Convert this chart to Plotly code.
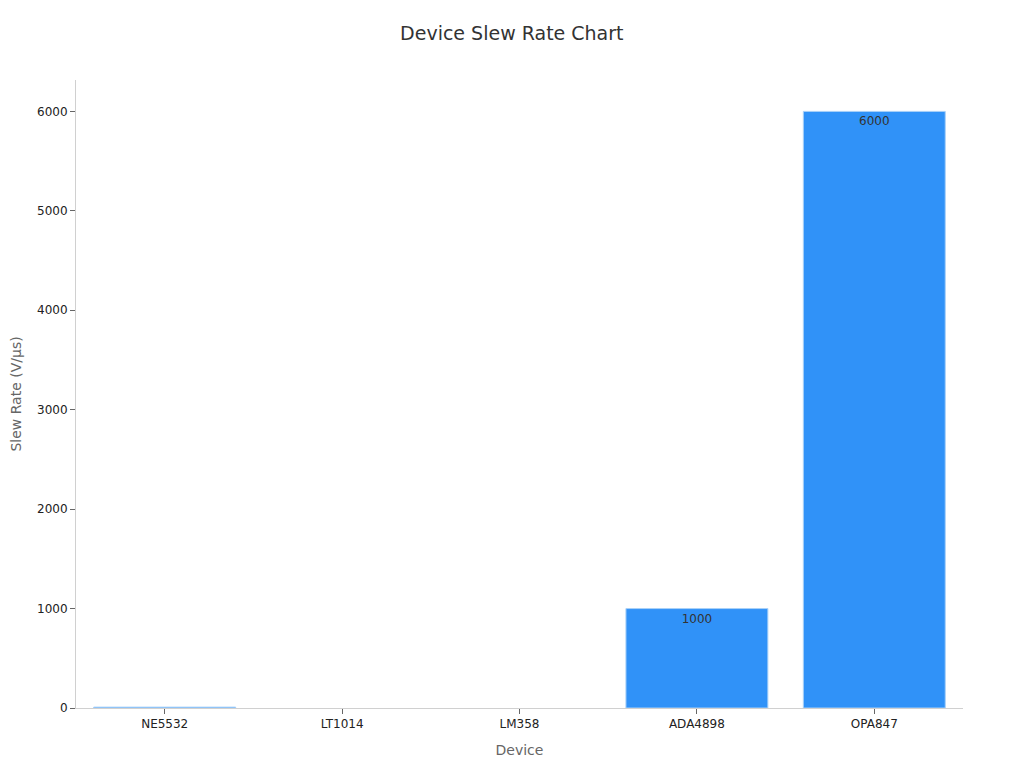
import plotly.graph_objects as go

devices = ['NE5532', 'LT1014', 'LM358', 'ADA4898', 'OPA847']
slew_rates = [9, 0.4, 0.3, 1000, 6000]  # V/us
bar_labels = ['9', '0.4', '0.3', '1000', '6000']

fig = go.Figure()
fig.add_trace(go.Bar(
    x=devices,
    y=slew_rates,
    text=bar_labels,
    textposition='inside',
    insidetextanchor='end',
    textfont=dict(size=12, color='#333333'),
    marker=dict(
        color='#3092f8',
        opacity=[1, 0, 0, 1, 1],  # sub-pixel bars don't show up in the original
        line=dict(color='#a8d0f8', width=1),
    ),
    hoverinfo='x+y',
))

# the page sits 8px in from the window edge, so margins are offset for that
fig.update_layout(
    title=dict(
        text="Device Slew Rate Chart",
        x=0.492,
        y=0.967,
        xanchor='center',
        yanchor='middle',
        font=dict(size=19, color='#333333'),
    ),
    font=dict(family='DejaVu Sans', size=12, color='#222222'),
    xaxis=dict(
        title=dict(text='Device', font=dict(size=14, color='#666666'), standoff=14),
        showline=True, linecolor='#d0d0d0', linewidth=1,
        ticks='outside', ticklen=5, tickcolor='#666666',
        showgrid=False,
    ),
    yaxis=dict(
        title=dict(text='Slew Rate (V/μs)', font=dict(size=14, color='#666666'), standoff=15),
        showline=True, linecolor='#d0d0d0', linewidth=1,
        ticks='outside', ticklen=5, tickcolor='#666666',
        showgrid=False, zeroline=False,
        rangemode='tozero',
        automargin=False,
    ),
    bargap=0.2,
    uniformtext=dict(minsize=12, mode='hide'),
    margin=dict(l=68, r=69, t=72, b=68),
    plot_bgcolor='white',
    paper_bgcolor='white',
    width=1024,
    height=768,
    showlegend=False,
)

fig.write_html("out.html")
